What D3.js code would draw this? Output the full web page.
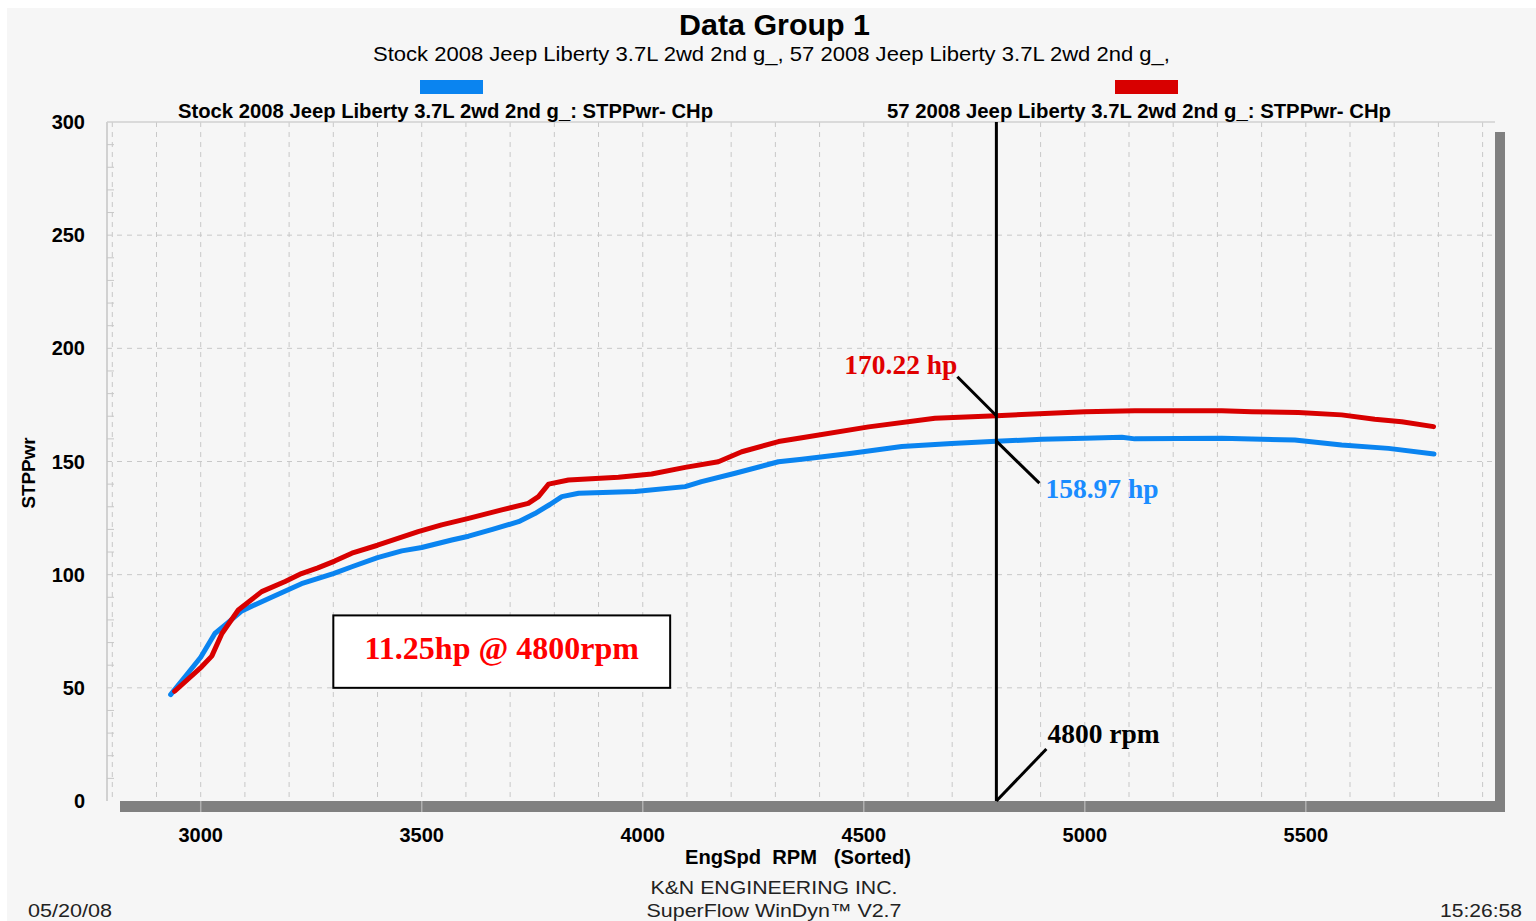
<!DOCTYPE html>
<html>
<head>
<meta charset="utf-8">
<script src="https://cdn.jsdelivr.net/npm/d3@7"></script>
<style>
  body { margin: 0; background: #ffffff; }
  .narrow { font-family: 'Liberation Sans Narrow', 'Arial Narrow', 'Liberation Sans', Arial, sans-serif; }
  .serif { font-family: 'Liberation Serif', 'Times New Roman', serif; font-weight: bold; }
</style>
</head>
<body>
<script>
// dyno data: rpm / horsepower
var stockRpm = [2932, 2965, 3000, 3032, 3063, 3093, 3154, 3228, 3300, 3342, 3400, 3455, 3500, 3568, 3606, 3660, 3719, 3756, 3790, 3817, 3855, 3983, 4096, 4133, 4209, 4307, 4360, 4473, 4586, 4699, 4800, 4903, 5000, 5084, 5113, 5310, 5475, 5581, 5687, 5790];
var stockHp  = [47.0, 55.0, 63.5, 74.0, 79.0, 84.0, 89.5, 96.0, 100.5, 103.5, 107.5, 110.5, 112.0, 115.3, 117.0, 120.0, 123.4, 127.0, 131.0, 134.5, 136.0, 136.7, 138.9, 141.1, 144.8, 149.9, 151.0, 153.6, 156.6, 158.0, 158.97, 159.8, 160.3, 160.7, 160.0, 160.3, 159.5, 157.3, 155.8, 153.3];

var modRpm = [2941, 3002, 3025, 3048, 3085, 3138, 3191, 3228, 3265, 3303, 3342, 3400, 3492, 3545, 3606, 3681, 3741, 3764, 3787, 3832, 3945, 4020, 4096, 4171, 4224, 4307, 4360, 4511, 4661, 4800, 5000, 5113, 5310, 5378, 5483, 5581, 5656, 5717, 5789];
var modHp  = [48.5, 59.3, 64.0, 74.0, 84.4, 92.5, 97.0, 100.5, 103.0, 106.0, 109.5, 113.0, 119.0, 122.0, 124.9, 128.6, 131.5, 134.5, 140.0, 141.8, 143.0, 144.5, 147.4, 149.9, 154.3, 158.8, 160.5, 165.3, 169.1, 170.22, 172.0, 172.4, 172.4, 172.0, 171.6, 170.6, 168.7, 167.6, 165.4];

var xTicks = [3000, 3500, 4000, 4500, 5000, 5500];
var yTicks = [0, 50, 100, 150, 200, 250, 300];
var seriesNames = ["Stock 2008 Jeep Liberty 3.7L 2wd 2nd g_: STPPwr- CHp", "57 2008 Jeep Liberty 3.7L 2wd 2nd g_: STPPwr- CHp"];
var markRpm = 4800;
var markStock = 158.97, markMod = 170.22;

var W = 1536, H = 921;
var blue = "#0a84f0", red = "#d80000";
var sans = "'Liberation Sans', Arial, sans-serif";

var svg = d3.select("body").append("svg")
    .attr("width", W)
    .attr("height", H);

svg.append("rect").attr("x", 7).attr("y", 8).attr("width", W - 7).attr("height", H - 8).attr("fill", "#f6f6f6");

// scales
var x = d3.scaleLinear().domain([2788, 5928]).range([107, 1495]);
var y = d3.scaleLinear().domain([0, 300]).range([801, 122]);

// 3d shadow of the frame
svg.append("rect").attr("x", 120).attr("y", y(0)).attr("width", 1505 - 120).attr("height", 11).attr("fill", "#808080");
svg.append("rect").attr("x", x.range()[1]).attr("y", 132).attr("width", 10).attr("height", 812 - 132).attr("fill", "#808080");

// grid
var gridX = d3.range(2800, 5901, 100);
svg.append("g").selectAll("line").data(gridX).enter().append("line")
    .attr("x1", function(d) { return x(d); }).attr("x2", function(d) { return x(d); })
    .attr("y1", y(300)).attr("y2", y(0))
    .attr("stroke", "#c8c8c8").attr("stroke-dasharray", "5,5");
svg.append("g").selectAll("line").data([50, 100, 150, 200, 250]).enter().append("line")
    .attr("x1", x.range()[0]).attr("x2", x.range()[1])
    .attr("y1", function(d) { return y(d); }).attr("y2", function(d) { return y(d); })
    .attr("stroke", "#c8c8c8").attr("stroke-dasharray", "5,5");

// minor ticks on left side
svg.append("g").selectAll("line").data(d3.range(10, 300, 10).filter(function(d) { return d % 50 != 0; })).enter().append("line")
    .attr("x1", x.range()[0]).attr("x2", x.range()[0] + 7)
    .attr("y1", function(d) { return y(d); }).attr("y2", function(d) { return y(d); })
    .attr("stroke", "#c8c8c8");

// frame lines
svg.append("line").attr("x1", x.range()[0]).attr("x2", x.range()[0]).attr("y1", y(300)).attr("y2", y(0)).attr("stroke", "#c4c4c4").attr("stroke-width", 1.5);
svg.append("line").attr("x1", x.range()[0]).attr("x2", x.range()[1]).attr("y1", y(300)).attr("y2", y(300)).attr("stroke", "#d0d0d0").attr("stroke-width", 1.5);

// light tick marks through the bottom bar
svg.append("g").selectAll("line").data(xTicks).enter().append("line")
    .attr("x1", function(d) { return x(d); }).attr("x2", function(d) { return x(d); })
    .attr("y1", y(0)).attr("y2", y(0) + 11)
    .attr("stroke", "#b0b0b0").attr("stroke-width", 1.5);

// axes labels
svg.append("g").selectAll("text").data(yTicks).enter().append("text")
    .attr("class", "narrow")
    .attr("x", 85).attr("y", function(d) { return y(d) + 7; })
    .attr("text-anchor", "end").attr("font-size", 20).attr("font-weight", "bold")
    .text(function(d) { return d; });
svg.append("g").selectAll("text").data(xTicks).enter().append("text")
    .attr("class", "narrow")
    .attr("x", function(d) { return x(d); }).attr("y", 842)
    .attr("text-anchor", "middle").attr("font-size", 20).attr("font-weight", "bold")
    .text(function(d) { return d; });

svg.append("text").attr("class", "narrow")
    .attr("transform", "translate(35,473) rotate(-90)")
    .attr("text-anchor", "middle").attr("font-size", 19).attr("font-weight", "bold")
    .attr("textLength", 71).attr("lengthAdjust", "spacingAndGlyphs")
    .text("STPPwr");
svg.append("text").attr("class", "narrow")
    .attr("x", 685).attr("y", 864)
    .attr("font-size", 20).attr("font-weight", "bold")
    .attr("xml:space", "preserve")
    .attr("textLength", 226).attr("lengthAdjust", "spacingAndGlyphs")
    .text("EngSpd  RPM   (Sorted)");

// titles
svg.append("text").attr("x", 679).attr("y", 35)
    .attr("font-family", sans)
    .attr("font-size", 29).attr("font-weight", "bold")
    .attr("textLength", 191).attr("lengthAdjust", "spacingAndGlyphs")
    .text("Data Group 1");
svg.append("text").attr("class", "narrow").attr("x", 373).attr("y", 61)
    .attr("font-size", 21).attr("textLength", 797).attr("lengthAdjust", "spacingAndGlyphs")
    .text("Stock 2008 Jeep Liberty 3.7L 2wd 2nd g_, 57 2008 Jeep Liberty 3.7L 2wd 2nd g_,");

// legend
var legend = [
    {name: seriesNames[0], color: blue, sx: 420, tx: 178, tw: 535},
    {name: seriesNames[1], color: red, sx: 1115, tx: 887, tw: 504}
];
legend.forEach(function(l) {
    svg.append("rect").attr("x", l.sx).attr("y", 80).attr("width", 63).attr("height", 14).attr("fill", l.color);
    svg.append("text").attr("class", "narrow").attr("x", l.tx).attr("y", 118)
        .attr("font-size", 20).attr("font-weight", "bold")
        .attr("textLength", l.tw).attr("lengthAdjust", "spacingAndGlyphs")
        .text(l.name);
});

// the curves
var line = d3.line()
    .x(function(d) { return x(d[0]); })
    .y(function(d) { return y(d[1]); });

svg.append("path")
    .datum(d3.zip(stockRpm, stockHp))
    .attr("d", line)
    .attr("fill", "none").attr("stroke", blue).attr("stroke-width", 5)
    .attr("stroke-linecap", "round").attr("stroke-linejoin", "round");
svg.append("path")
    .datum(d3.zip(modRpm, modHp))
    .attr("d", line)
    .attr("fill", "none").attr("stroke", red).attr("stroke-width", 5)
    .attr("stroke-linecap", "round").attr("stroke-linejoin", "round");

// cursor at 4800 rpm
var mx = x(markRpm);
svg.append("line").attr("x1", mx).attr("x2", mx).attr("y1", y(300)).attr("y2", y(0))
    .attr("stroke", "#000").attr("stroke-width", 3);

svg.append("line").attr("x1", mx).attr("y1", y(markMod)).attr("x2", mx - 39).attr("y2", y(markMod) - 39)
    .attr("stroke", "#000").attr("stroke-width", 3);
svg.append("text").attr("class", "serif").attr("x", mx - 39).attr("y", y(markMod) - 42)
    .attr("text-anchor", "end").attr("font-size", 27.5).attr("fill", "#e00000")
    .text(markMod + " hp");

svg.append("line").attr("x1", mx).attr("y1", y(markStock)).attr("x2", mx + 43).attr("y2", y(markStock) + 42)
    .attr("stroke", "#000").attr("stroke-width", 3);
svg.append("text").attr("class", "serif").attr("x", mx + 49).attr("y", y(markStock) + 57)
    .attr("font-size", 27.5).attr("fill", "#1a8cff")
    .text(markStock + " hp");

svg.append("line").attr("x1", mx).attr("y1", y(0)).attr("x2", mx + 50).attr("y2", y(0) - 52)
    .attr("stroke", "#000").attr("stroke-width", 3);
svg.append("text").attr("class", "serif").attr("x", mx + 51).attr("y", y(0) - 58)
    .attr("font-size", 27.5).attr("fill", "#000")
    .text(markRpm + " rpm");

// gain box
var gain = (markMod - markStock).toFixed(2);
svg.append("rect").attr("x", x(3300)).attr("y", y(82)).attr("width", x(4062) - x(3300)).attr("height", y(50) - y(82))
    .attr("fill", "#fff").attr("stroke", "#000").attr("stroke-width", 2);
svg.append("text").attr("class", "serif").attr("x", (x(3300) + x(4062)) / 2).attr("y", 659)
    .attr("text-anchor", "middle").attr("font-size", 32).attr("fill", "#ff0000")
    .text(gain + "hp @ " + markRpm + "rpm");

// footer
svg.append("text").attr("x", 774).attr("y", 894).attr("text-anchor", "middle")
    .attr("font-family", sans).attr("font-size", 19).attr("fill", "#222")
    .attr("textLength", 247).attr("lengthAdjust", "spacingAndGlyphs")
    .text("K&N ENGINEERING INC.");
svg.append("text").attr("x", 774).attr("y", 917).attr("text-anchor", "middle")
    .attr("font-family", sans).attr("font-size", 19).attr("fill", "#222")
    .attr("textLength", 255).attr("lengthAdjust", "spacingAndGlyphs")
    .text("SuperFlow WinDyn\u2122 V2.7");
svg.append("text").attr("x", 28).attr("y", 917)
    .attr("font-family", sans).attr("font-size", 19).attr("fill", "#222")
    .attr("textLength", 84).attr("lengthAdjust", "spacingAndGlyphs")
    .text("05/20/08");
svg.append("text").attr("x", 1440).attr("y", 917)
    .attr("font-family", sans).attr("font-size", 19).attr("fill", "#222")
    .attr("textLength", 82).attr("lengthAdjust", "spacingAndGlyphs")
    .text("15:26:58");
</script>
</body>
</html>
